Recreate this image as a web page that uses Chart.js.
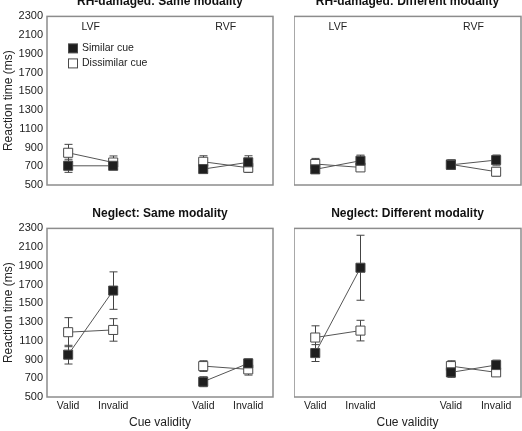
<!DOCTYPE html>
<html>
<head>
<meta charset="utf-8">
<title>Reaction time by cue validity</title>
<script src="https://cdn.jsdelivr.net/npm/chart.js@4.4.0/dist/chart.umd.min.js"></script>
<style>
  html, body { margin: 0; padding: 0; background: #fff; }
  body { width: 522px; height: 431px; position: relative; overflow: hidden; }
  .panel { position: absolute; }
</style>
</head>
<body>
<div class="panel" style="left:0;top:-12px;width:276px;height:208px"><canvas id="rhSame" width="276" height="208"></canvas></div>
<div class="panel" style="left:294px;top:-12px;width:228px;height:208px"><canvas id="rhDiff" width="228" height="208"></canvas></div>
<div class="panel" style="left:0;top:200px;width:276px;height:231px"><canvas id="negSame" width="276" height="231"></canvas></div>
<div class="panel" style="left:294px;top:200px;width:228px;height:231px"><canvas id="negDiff" width="228" height="231"></canvas></div>
<script>
'use strict';

// x positions of the four conditions (LVF valid, LVF invalid, RVF valid, RVF invalid)
var cuePositions = [0, 1, 3, 4];
var cueLabels = ['Valid', 'Invalid', 'Valid', 'Invalid'];
var fieldLabels = ['LVF', 'RVF'];
var fieldPositions = [0.5, 3.5];
var seriesNames = ['Similar cue', 'Dissimilar cue'];
var panelTitles = ['RH-damaged: Same modality', 'RH-damaged: Different modality',
                   'Neglect: Same modality', 'Neglect: Different modality'];
var yMin = 500, yMax = 2300, yStep = 200;

// RH-damaged, same modality
var rhSameSimilar = [705, 705, 670, 742];
var rhSameSimilarErr = [70, 40, 45, 70];
var rhSameDissimilar = [844, 740, 748, 684];
var rhSameDissimilarErr = [90, 70, 64, 50];

// RH-damaged, different modality
var rhDiffSimilar = [667, 759, 715, 766];
var rhDiffSimilarErr = [42, 60, 40, 54];
var rhDiffDissimilar = [724, 688, 720, 642];
var rhDiffDissimilarErr = [60, 40, 50, 46];

// Neglect, same modality
var negSameSimilar = [952, 1636, 663, 859];
var negSameSimilarErr = [100, 200, 53, 46];
var negSameDissimilar = [1192, 1216, 830, 795];
var negSameDissimilarErr = [155, 120, 57, 61];

// Neglect, different modality
var negDiffSimilar = [969, 1880, 763, 841];
var negDiffSimilarErr = [90, 347, 53, 53];
var negDiffDissimilar = [1135, 1209, 830, 763];
var negDiffDissimilarErr = [125, 110, 57, 36];

var FONT = "'Liberation Sans', Arial, Helvetica, sans-serif";
var INK = '#222';
Chart.defaults.font.family = FONT;
Chart.defaults.color = INK;

function toPoints(values) {
  var pts = [];
  values.forEach(function (v, i) {
    pts.push({x: cuePositions[i], y: v});
    if (i === 1) pts.push({x: 2, y: null}); // break the line between LVF and RVF
  });
  return pts;
}

function series(name, values, filled) {
  return {
    label: name,
    data: toPoints(values),
    borderColor: '#555',
    borderWidth: 1,
    pointStyle: 'rect',
    pointRadius: 6.4,
    pointBackgroundColor: filled ? '#1e1e1e' : '#fff',
    pointBorderColor: '#4a4a4a',
    pointBorderWidth: 1,
    spanGaps: false,
    tension: 0
  };
}

var panelExtras = {
  id: 'panelExtras',
  beforeDatasetsDraw: function (chart, args, opts) {
    var ctx = chart.ctx, xs = chart.scales.x, ys = chart.scales.y;
    ctx.save();
    ctx.strokeStyle = '#444';
    ctx.lineWidth = 1;
    (opts.errors || []).forEach(function (errs, d) {
      var vals = opts.values[d];
      errs.forEach(function (e, i) {
        var x = Math.round(xs.getPixelForValue(cuePositions[i])) + 0.5;
        var top = ys.getPixelForValue(vals[i] + e);
        var bot = ys.getPixelForValue(vals[i] - e);
        ctx.beginPath();
        ctx.moveTo(x, top); ctx.lineTo(x, bot);
        ctx.moveTo(x - 4, top); ctx.lineTo(x + 4, top);
        ctx.moveTo(x - 4, bot); ctx.lineTo(x + 4, bot);
        ctx.stroke();
      });
    });
    ctx.restore();
  },
  afterDraw: function (chart, args, opts) {
    var ctx = chart.ctx, a = chart.chartArea, xs = chart.scales.x;
    ctx.save();
    ctx.strokeStyle = '#8c8c8c';
    ctx.lineWidth = 1.5;
    ctx.strokeRect(a.left, a.top, a.right - a.left, a.bottom - a.top);

    ctx.fillStyle = INK;
    ctx.font = '10.5px ' + FONT;
    ctx.textBaseline = 'middle';
    if (opts.showFields) {
      ctx.textAlign = 'center';
      fieldLabels.forEach(function (t, i) {
        ctx.fillText(t, xs.getPixelForValue(fieldPositions[i]), a.top + 11);
      });
    }
    if (opts.showLegend) {
      ctx.textAlign = 'left';
      chart.data.datasets.forEach(function (ds, i) {
        var cx = a.left + 26, cy = a.top + 32 + i * 15;
        ctx.fillStyle = ds.pointBackgroundColor;
        ctx.strokeStyle = ds.pointBorderColor;
        ctx.lineWidth = 1;
        ctx.fillRect(cx - 4.5, cy - 4.5, 9, 9);
        ctx.strokeRect(cx - 4.5, cy - 4.5, 9, 9);
        ctx.fillStyle = INK;
        ctx.fillText(ds.label, cx + 9, cy);
      });
    }
    ctx.restore();
  }
};

function makePanel(id, title, similar, similarErr, dissimilar, dissimilarErr, opt) {
  var xAxis = {
    type: 'linear',
    min: -0.47,
    max: 4.55,
    display: opt.bottom,
    afterBuildTicks: function (axis) {
      axis.ticks = cuePositions.map(function (v) { return {value: v}; });
    },
    ticks: {
      autoSkip: false,
      maxRotation: 0,
      padding: 3,
      font: {size: 10.5},
      callback: function (v, i) { return cueLabels[i]; }
    },
    grid: {display: false, drawTicks: false},
    border: {display: false},
    title: {display: true, text: 'Cue validity', font: {size: 12}, padding: {top: 2, bottom: 1}},
    afterFit: function (s) { if (opt.bottom) s.height = 34; }
  };
  var yAxis = {
    type: 'linear',
    min: yMin,
    max: yMax,
    display: opt.left,
    ticks: {
      stepSize: yStep,
      autoSkip: false,
      padding: 4,
      font: {size: 11},
      callback: function (v) { return String(v); }
    },
    grid: {display: false, drawTicks: false},
    border: {display: false},
    title: {display: true, text: 'Reaction time (ms)', font: {size: 12}, padding: {top: 1, bottom: 0}},
    afterFit: function (s) { if (opt.left) s.width = 47; }
  };
  return new Chart(document.getElementById(id), {
    type: 'line',
    data: {
      datasets: [
        series(seriesNames[0], similar, true),
        series(seriesNames[1], dissimilar, false)
      ]
    },
    options: {
      responsive: false,
      animation: false,
      events: [],
      layout: {
        autoPadding: false,
        padding: {left: 0, top: 0, right: opt.left ? 3 : 1, bottom: opt.bottom ? 0 : 11}
      },
      scales: {x: xAxis, y: yAxis},
      plugins: {
        legend: {display: false},
        tooltip: {enabled: false},
        title: {
          display: true,
          text: title,
          fullSize: false,
          color: '#111',
          font: {size: 12, weight: 'bold'},
          padding: {top: 6, bottom: 8}
        },
        panelExtras: {
          values: [similar, dissimilar],
          errors: [similarErr, dissimilarErr],
          showFields: !opt.bottom,
          showLegend: opt.left && !opt.bottom
        }
      }
    },
    plugins: [panelExtras]
  });
}

makePanel('rhSame', panelTitles[0], rhSameSimilar, rhSameSimilarErr, rhSameDissimilar, rhSameDissimilarErr, {left: true, bottom: false});
makePanel('rhDiff', panelTitles[1], rhDiffSimilar, rhDiffSimilarErr, rhDiffDissimilar, rhDiffDissimilarErr, {left: false, bottom: false});
makePanel('negSame', panelTitles[2], negSameSimilar, negSameSimilarErr, negSameDissimilar, negSameDissimilarErr, {left: true, bottom: true});
makePanel('negDiff', panelTitles[3], negDiffSimilar, negDiffSimilarErr, negDiffDissimilar, negDiffDissimilarErr, {left: false, bottom: true});
</script>
</body>
</html>
